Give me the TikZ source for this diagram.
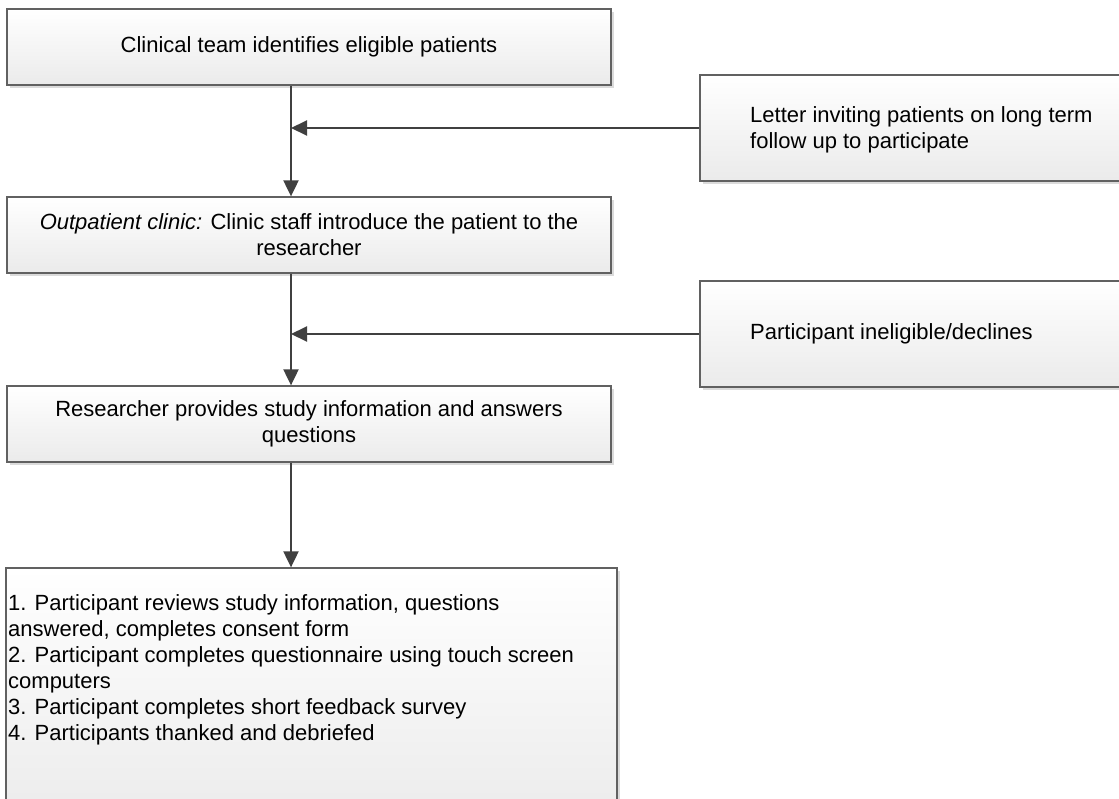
\documentclass[tikz,border=0pt]{standalone}
\usepackage{fontspec}
\setmainfont{Liberation Sans}
\usetikzlibrary{arrows.meta,shadows}
\tikzset{
  box/.style={rectangle, draw=black!62, line width=1.3pt,
    top color=white, bottom color=black!8,
    drop shadow={shadow xshift=3pt, shadow yshift=-3pt, fill=black!14, opacity=1},
    inner sep=0pt, font=\fontsize{22}{26}\selectfont},
  label/.style={inner sep=0pt, font=\fontsize{22}{26}\selectfont, align=left, anchor=west},
  conn/.style={draw=black!75, line width=2pt, -{Triangle[length=16pt,width=15pt]}}
}
\begin{document}
\begin{tikzpicture}[x=1pt,y=-1pt]
\clip (0,0) rectangle (1119,798);
\fill[white] (0,0) rectangle (1119,798);

% main column
\node[box, minimum width=604pt, minimum height=76pt, align=center] (b1) at (309,47)
  {Clinical team identifies eligible patients};
\node[box, minimum width=604pt, minimum height=76pt, align=center] (b3) at (309,235)
  {\textit{Outpatient clinic:} Clinic staff introduce the patient to the\\researcher};
\node[box, minimum width=604pt, minimum height=76pt, align=center] (b5) at (309,424)
  {Researcher provides study information and answers\\questions};
\node[box, minimum width=611pt, minimum height=262pt] (b6) at (311.5,699) {};
\node[label, anchor=north west] (t6) at (8,594)
  {1. Participant reviews study information, questions\\
   answered, completes consent form\\
   2. Participant completes questionnaire using touch screen\\
   computers\\
   3. Participant completes short feedback survey\\
   4. Participants thanked and debriefed};

% side boxes
\node[box, minimum width=440pt, minimum height=106pt] (b2) at (920,128) {};
\node[label] (t2) at (750,130) {Letter inviting patients on long term\\follow up to participate};
\node[box, minimum width=440pt, minimum height=106pt] (b4) at (920,334) {};
\node[label] (t4) at (750,334) {Participant ineligible/declines};

% connectors
\coordinate (spine) at (291,0);
\draw[conn] (b1.south -| spine) -- (b3.north -| spine);
\draw[conn] (b3.south -| spine) -- (b5.north -| spine);
\draw[conn] (b5.south -| spine) -- (b6.north -| spine);
\draw[conn] (b2.west) -- (b2.west -| spine);
\draw[conn] (b4.west) -- (b4.west -| spine);
\end{tikzpicture}
\end{document}
